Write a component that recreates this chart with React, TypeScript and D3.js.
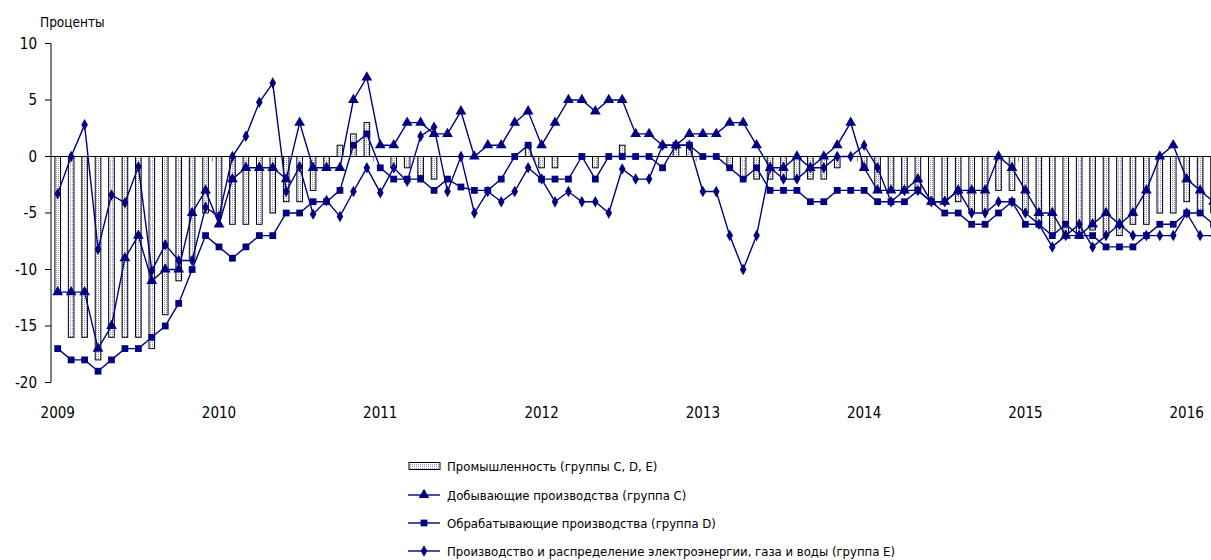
import { useEffect, useRef } from 'react'
import * as d3 from 'd3'

// monthly, Jan 2009 .. Mar 2016
const years = ['2009', '2010', '2011', '2012', '2013', '2014', '2015', '2016']

const industry = [
  -12, -16, -16, -18, -16, -16, -16, -17, -14, -11, -9, -5,
  -5, -6, -6, -6, -5, -4, -4, -3, -1, 1, 2, 3,
  0, -1, -1, -1.7, -2, 0, 0, 0, 0, 0, 0, 1,
  -1, -1, 0, 0, -1, 0, 1, 0, 0, 0, 1, 1,
  0, 0, -1, -2, -2, -2, -2, -2, -2, -2, -1, 0,
  -1, -3, -3, -3, -3, -4, -4, -4, -5, -5, -3, -3,
  -5, -6, -7, -7, -7, -6.5, -7, -7, -6, -6, -5, -5,
  -4, -5, -5,
]

const mining = [
  -12, -12, -12, -17, -15, -9, -7, -11, -10, -10, -5, -3,
  -6, -2, -1, -1, -1, -2, 3, -1, -1, -1, 5, 7,
  1, 1, 3, 3, 2, 2, 4, 0, 1, 1, 3, 4,
  1, 3, 5, 5, 4, 5, 5, 2, 2, 1, 1, 2,
  2, 2, 3, 3, 1, -1, -1, 0, -1, 0, 1, 3,
  -1, -3, -3, -3, -2, -4, -4, -3, -3, -3, 0, -1,
  -3, -5, -5, -7, -7, -6, -5, -6, -5, -3, 0, 1,
  -2, -3, -4,
]

const manufacturing = [
  -17, -18, -18, -19, -18, -17, -17, -16, -15, -13, -10, -7,
  -8, -9, -8, -7, -7, -5, -5, -4, -4, -3, 1, 2,
  -1, -2, -2, -2, -3, -2, -2.7, -3, -3, -2, 0, 1,
  -2, -2, -2, 0, -2, 0, 0, 0, 0, -1, 1, 1,
  0, 0, -1, -2, -1, -3, -3, -3, -4, -4, -3, -3,
  -3, -4, -4, -4, -3, -4, -5, -5, -6, -6, -5, -4,
  -6, -6, -7, -6, -7, -7, -8, -8, -8, -7, -6, -6,
  -5, -5, -6,
]

const utilities = [
  -3.3, 0, 2.8, -8.2, -3.4, -4.1, -0.9, -10.1, -7.8, -9.2, -9.2, -4.5,
  -5.3, 0, 1.8, 4.8, 6.5, -3.1, -0.9, -5.1, -3.9, -5.3, -3.1, -1,
  -3.2, -1, -2.2, 1.8, 2.6, -3.1, 0, -5, -3.1, -4, -3.1, -1,
  -2, -4, -3.1, -4, -4, -5, -1.1, -2, -2, 1, 1, 1,
  -3.1, -3.1, -7, -10, -7, -1, -2, -2, -1, -1, 0, 0,
  1, -1, -4, -3, -3, -4, -4, -3, -5, -5, -4, -4,
  -5, -6, -8, -7, -6, -8, -7, -6, -7, -7, -7, -7,
  -5, -7, -7,
]

const yTicks = [10, 5, 0, -5, -10, -15, -20]

const legendLabels = [
  'Промышленность (группы C, D, E)',
  'Добывающие производства (группа C)',
  'Обрабатывающие производства (группа D)',
  'Производство и распределение электроэнергии, газа и воды (группа E)',
]

const W = 1211
const H = 560
const NAVY = '#000080'
const FONT = '"DejaVu Sans Condensed", "DejaVu Sans", sans-serif'

export default function App() {
  const svgRef = useRef<SVGSVGElement>(null)

  useEffect(() => {
    const svg = svgRef.current
    if (!svg) return
    const root = d3.select(svg)
    root.selectAll('*').remove()

    const n = industry.length
    const step = 13.44
    const left = 51
    const x = d3.scaleBand<number>().domain(d3.range(n)).range([left, left + n * step]).padding(0)
    const cx = (i: number) => (x(i) ?? 0) + x.bandwidth() / 2
    const y = d3.scaleLinear().domain([-20, 10]).range([382.5, 43.5])

    const defs = root.append('defs')
    const pat = defs.append('pattern').attr('id', 'dots')
      .attr('width', 2).attr('height', 2).attr('patternUnits', 'userSpaceOnUse')
    pat.append('rect').attr('width', 2).attr('height', 2).attr('fill', '#ffffff')
    pat.append('rect').attr('width', 1).attr('height', 1).attr('fill', '#8c8cd0')

    const g = root.append('g')

    // bars
    const bw = 5.6
    g.append('g').selectAll('rect').data(industry).join('rect')
      .attr('x', (_, i) => cx(i) - bw / 2)
      .attr('y', d => Math.min(y(d), y(0)))
      .attr('width', bw)
      .attr('height', d => Math.abs(y(d) - y(0)))
      .attr('fill', 'url(#dots)')
      .attr('stroke', '#000').attr('stroke-width', 1)

    // left axis
    g.append('line').attr('x1', left).attr('x2', left)
      .attr('y1', y(10)).attr('y2', y(-20)).attr('stroke', '#000')
    g.selectAll('.ytick').data(yTicks).join('line')
      .attr('x1', left - 6).attr('x2', left)
      .attr('y1', d => y(d)).attr('y2', d => y(d)).attr('stroke', '#000')
    g.selectAll('.ylab').data(yTicks).join('text')
      .attr('x', 37).attr('y', d => y(d)).attr('dy', '0.35em')
      .attr('text-anchor', 'end').attr('font-family', FONT).attr('font-size', 15)
      .text(d => d)

    // zero line + year ticks
    g.append('line').attr('x1', left).attr('x2', W)
      .attr('y1', y(0)).attr('y2', y(0)).attr('stroke', '#000')
    const yearIdx = years.map((_, k) => k * 12)
    g.selectAll('.xtick').data(yearIdx.slice(1)).join('line')
      .attr('x1', d => x(d) ?? 0).attr('x2', d => x(d) ?? 0)
      .attr('y1', y(0)).attr('y2', y(0) + 5).attr('stroke', '#808080')
    g.selectAll('.xlab').data(years).join('text')
      .attr('x', (_, k) => cx(k * 12)).attr('y', 418)
      .attr('text-anchor', 'middle').attr('font-family', FONT).attr('font-size', 15)
      .text(d => d)

    // lines
    const series = [mining, manufacturing, utilities]
    const line = d3.line<number>().x((_, i) => cx(i)).y(d => y(d))
    series.forEach(s => {
      g.append('path').datum(s).attr('fill', 'none')
        .attr('stroke', NAVY).attr('stroke-width', 1.4).attr('d', line)
    })
    const symbols = [
      d3.symbol().type(d3.symbolTriangle).size(50),
      d3.symbol().type(d3.symbolSquare).size(46),
      d3.symbol().type(d3.symbolDiamond).size(38),
    ]
    series.forEach((s, k) => {
      g.append('g').selectAll('path').data(s).join('path')
        .attr('transform', (d, i) => `translate(${cx(i)},${y(d)})`)
        .attr('d', symbols[k]()!)
        .attr('fill', NAVY)
    })

    // title
    root.append('text').attr('x', 40).attr('y', 27)
      .attr('font-family', FONT).attr('font-size', 13.5).text('Проценты')

    // legend
    const lg = root.append('g')
    const rows = [466, 495, 523, 551]
    lg.append('rect').attr('x', 409).attr('y', rows[0] - 3.5).attr('width', 31).attr('height', 7)
      .attr('fill', 'url(#dots)').attr('stroke', '#000')
    rows.slice(1).forEach((ry, k) => {
      lg.append('line').attr('x1', 408).attr('x2', 440).attr('y1', ry).attr('y2', ry)
        .attr('stroke', NAVY).attr('stroke-width', 1.4)
      lg.append('path').attr('transform', `translate(424,${ry})`)
        .attr('d', symbols[k]()!).attr('fill', NAVY)
    })
    legendLabels.forEach((t, k) => {
      lg.append('text').attr('x', 447).attr('y', rows[k]).attr('dy', '0.35em')
        .attr('font-family', FONT).attr('font-size', 13).text(t)
    })
  }, [])

  return (
    <div style={{ position: 'absolute', left: 0, top: 0 }}>
      <svg ref={svgRef} width={W} height={H} style={{ display: 'block' }} />
    </div>
  )
}
